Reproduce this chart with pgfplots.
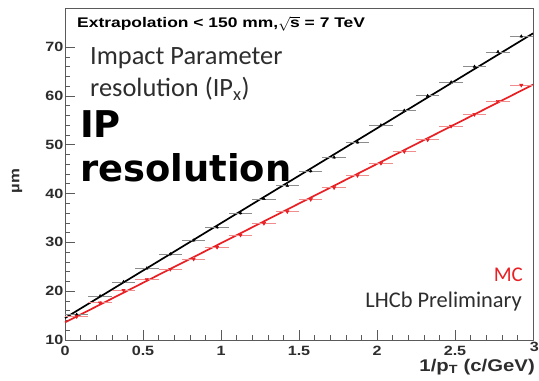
\documentclass[border=0pt]{standalone}
\usepackage{fontspec}
\usepackage{pgfplots}
\pgfplotsset{compat=1.18}
\setmainfont{Liberation Sans}
\newfontfamily\rootbf[FakeStretch=1.2]{Liberation Sans}
\newfontfamily\rootwide[FakeStretch=1.25]{Liberation Sans}
\newfontfamily\calibrifont{Carlito}
\newfontfamily\dvsfont{DejaVu Sans}
\definecolor{lhcbred}{RGB}{232,32,36}
\definecolor{errred}{RGB}{240,140,140}
\definecolor{errgray}{RGB}{140,140,140}
\definecolor{txtgray}{RGB}{45,45,45}
\definecolor{framegray}{RGB}{90,90,90}
\begin{document}
\begin{tikzpicture}
\path[use as bounding box] (0,0) rectangle (539bp,381bp);
\begin{axis}[
  at={(65bp,41bp)}, anchor=south west,
  scale only axis, width=468bp, height=332bp,
  xmin=0, xmax=3, ymin=10, ymax=78,
  xtick={0,0.5,1,1.5,2,2.5,3},
  xticklabels={0,0.5,1,1.5,2,2.5,},
  ytick={10,20,30,40,50,60,70},
  minor x tick num=4, minor y tick num=4,
  tick align=inside, xtick pos=bottom, ytick pos=left,
  major tick length=10bp, minor tick length=5bp,
  axis line style={framegray, line width=0.6bp},
  every tick/.style={framegray, line width=0.6bp},
  /pgf/number format/assume math mode=true,
  ticklabel style={font=\rootbf\bfseries\fontsize{13.5}{13.5}\selectfont, text=txtgray},
  yticklabel style={inner sep=1.5bp},
  xticklabel style={inner sep=2bp, yshift=-4bp},
  clip=false,
]
% fit lines
\addplot[black, line width=1.7bp, no marks] coordinates {(0,14.5) (3,72.8)};
\addplot[lhcbred, line width=1.7bp, no marks] coordinates {(0,13.6) (3,62.3)};
% data (black)
\addplot[only marks, black, mark=triangle*, mark size=1.6bp,
  error bars/.cd, x dir=both, x explicit, y dir=both, y explicit,
  error bar style={errgray, line width=0.8bp}, error mark=none]
  coordinates {
  (0.075,15.2) +- (0.075,0.3)
  (0.225,19.0) +- (0.075,0.3)
  (0.375,21.9) +- (0.075,0.3)
  (0.525,24.7) +- (0.075,0.3)
  (0.675,27.6) +- (0.075,0.3)
  (0.825,30.4) +- (0.075,0.3)
  (0.975,33.1) +- (0.075,0.3)
  (1.125,36.0) +- (0.075,0.3)
  (1.275,38.9) +- (0.075,0.3)
  (1.425,41.6) +- (0.075,0.3)
  (1.575,44.6) +- (0.075,0.3)
  (1.725,47.4) +- (0.075,0.3)
  (1.875,50.5) +- (0.075,0.3)
  (2.025,54.0) +- (0.075,0.3)
  (2.175,57.0) +- (0.075,0.3)
  (2.325,60.0) +- (0.075,0.3)
  (2.475,62.8) +- (0.075,0.3)
  (2.625,66.0) +- (0.075,0.3)
  (2.775,69.0) +- (0.075,0.3)
  (2.925,72.2) +- (0.075,0.3)
  };
% data (red, MC)
\addplot[only marks, lhcbred, mark=triangle*, mark size=2bp, mark options={rotate=180},
  error bars/.cd, x dir=both, x explicit, y dir=both, y explicit,
  error bar style={errred, line width=0.8bp}, error mark=none]
  coordinates {
  (0.075,14.8) +- (0.075,0.3)
  (0.225,17.6) +- (0.075,0.3)
  (0.375,20.2) +- (0.075,0.3)
  (0.525,22.4) +- (0.075,0.3)
  (0.675,24.5) +- (0.075,0.3)
  (0.825,26.6) +- (0.075,0.3)
  (0.975,29.0) +- (0.075,0.3)
  (1.125,31.5) +- (0.075,0.3)
  (1.275,33.9) +- (0.075,0.3)
  (1.425,36.3) +- (0.075,0.3)
  (1.575,38.8) +- (0.075,0.3)
  (1.725,41.2) +- (0.075,0.3)
  (1.875,43.7) +- (0.075,0.3)
  (2.025,46.2) +- (0.075,0.3)
  (2.175,48.6) +- (0.075,0.3)
  (2.325,51.0) +- (0.075,0.3)
  (2.475,53.8) +- (0.075,0.3)
  (2.625,56.2) +- (0.075,0.3)
  (2.775,58.9) +- (0.075,0.3)
  (2.925,62.2) +- (0.075,0.3)
  };
\end{axis}
% texts
\node[anchor=base west, inner sep=0pt, text=black, font=\rootwide\bfseries\fontsize{14}{15}\selectfont]
  at (77bp,353bp) {Extrapolation < 150 mm,$\sqrt{\mbox{s}}$ = 7 TeV};
\node[anchor=base west, inner sep=0pt, text=txtgray, font=\calibrifont\fontsize{26.5}{28}\selectfont]
  at (90bp,316bp) {Impact Parameter};
\node[anchor=base west, inner sep=0pt, text=txtgray, font=\calibrifont\fontsize{26.5}{28}\selectfont]
  at (90bp,284bp) {resolution (IP\textsubscript{x})};
\node[anchor=base west, inner sep=0pt, text=black, font=\dvsfont\bfseries\fontsize{37}{40}\selectfont]
  at (80bp,243bp) {IP};
\node[anchor=base west, inner sep=0pt, text=black, font=\dvsfont\bfseries\fontsize{37}{40}\selectfont]
  at (80bp,199bp) {resolution};
\node[anchor=base east, inner sep=0pt, text=lhcbred, font=\calibrifont\fontsize{21}{22}\selectfont]
  at (523bp,99bp) {MC};
\node[anchor=base east, inner sep=0pt, text=txtgray, font=\calibrifont\fontsize{22.5}{24}\selectfont]
  at (522bp,73bp) {LHCb Preliminary};
\node[anchor=base east, inner sep=0pt, text=txtgray, font=\rootbf\bfseries\fontsize{17}{18}\selectfont]
  at (535bp,10bp) {1/p\textsubscript{T} (c/GeV)};
\node[rotate=90, inner sep=0pt, text=txtgray, font=\rootbf\bfseries\fontsize{14}{15}\selectfont]
  at (17bp,200bp) {µm};
\node[anchor=base east, inner sep=0pt, text=txtgray, font=\rootbf\bfseries\fontsize{13.5}{13.5}\selectfont]
  at (539bp,30bp) {3};
\end{tikzpicture}
\end{document}
